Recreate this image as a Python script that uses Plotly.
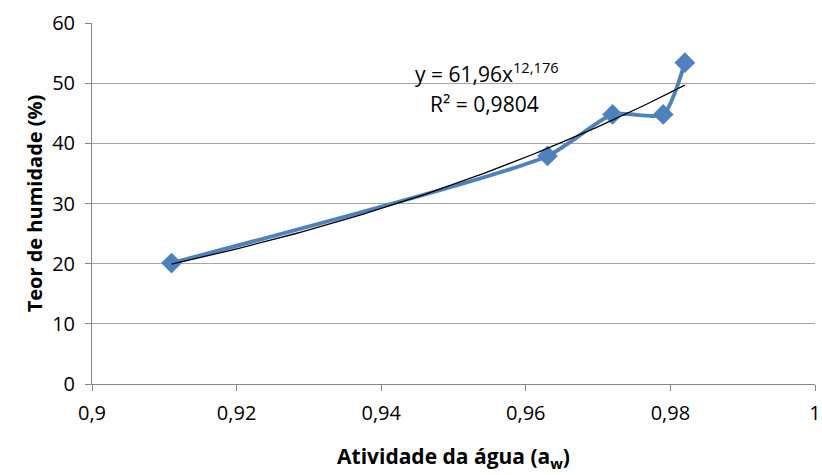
import numpy as np
import plotly.graph_objects as go

aw = [0.911, 0.963, 0.972, 0.979, 0.982]
humidade = [20.1, 37.9, 44.8, 44.8, 53.4]
coef_a = 61.96
coef_b = 12.176
r2 = 0.9804

xt = np.linspace(min(aw), max(aw), 100)
yt = coef_a * xt ** coef_b

fig = go.Figure()
fig.add_trace(go.Scatter(x=aw, y=humidade, mode="lines+markers",
                         line=dict(color="#4F81BD", width=4, shape="spline", smoothing=0.6),
                         marker=dict(symbol="diamond", size=16, color="#4F81BD"),
                         showlegend=False))
fig.add_trace(go.Scatter(x=xt, y=yt, mode="lines", line=dict(color="black", width=1.3),
                         showlegend=False, hoverinfo="skip"))

font = "Open Sans, Liberation Sans, sans-serif"
fig.add_annotation(x=0.9546, y=51.8, xref="x", yref="y", showarrow=False,
                   text="y = 61,96x<sup>12,176</sup>", font=dict(size=21, color="black", family=font))
fig.add_annotation(x=0.9543, y=46.6, xref="x", yref="y", showarrow=False,
                   text="R² = 0,9804", font=dict(size=21, color="black", family=font))

fig.update_layout(
    width=822, height=475,
    margin=dict(l=92, r=7, t=23, b=91),
    plot_bgcolor="white", paper_bgcolor="white",
    separators=", ",
    font=dict(family=font, size=20, color="black"),
    xaxis=dict(range=[0.9, 1.0], tickvals=[0.9, 0.92, 0.94, 0.96, 0.98, 1.0],
               ticktext=["0,9", "0,92", "0,94", "0,96", "0,98", "1"],
               showgrid=False, showline=True, linecolor="#868686", linewidth=1,
               ticks="outside", ticklen=6, tickcolor="#868686", zeroline=False,
               ticklabelstandoff=5, automargin=False,
               title=dict(text="<b>Atividade da água (a<sub>w</sub>)</b>", font=dict(size=21), standoff=24)),
    yaxis=dict(range=[0, 60], dtick=10, showgrid=True, gridcolor="#A6A6A6", gridwidth=1,
               showline=True, linecolor="#868686", linewidth=1,
               ticks="outside", ticklen=6, tickcolor="#868686", zeroline=False,
               ticklabelstandoff=6, automargin=False,
               title=dict(text="<b>Teor de humidade (%)</b>", font=dict(size=20), standoff=4)),
)
fig.write_html("out.html")
